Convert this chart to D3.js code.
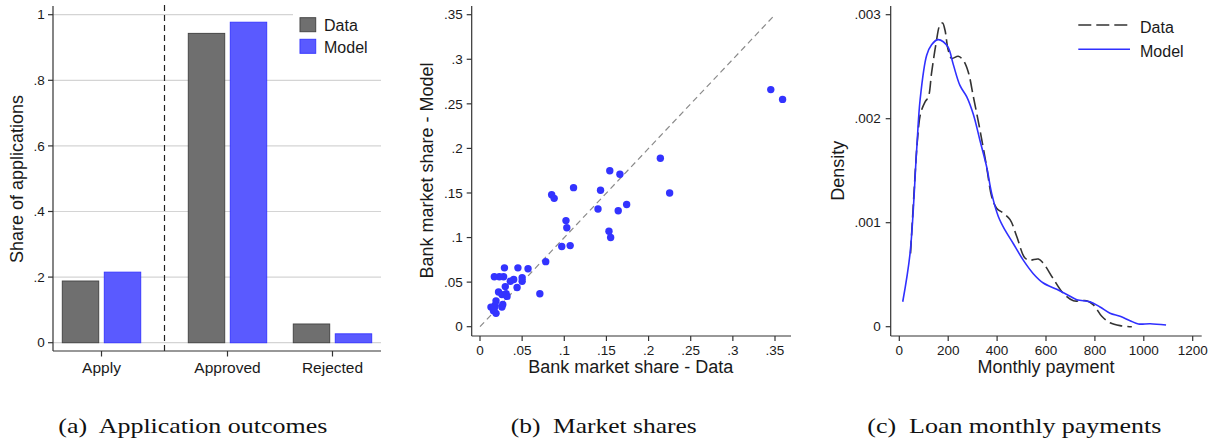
<!DOCTYPE html>
<html>
<head>
<meta charset="utf-8">
<script src="https://cdn.jsdelivr.net/npm/d3@7"></script>
<style>
  html, body { margin: 0; padding: 0; background: #fff; }
  svg { display: block; }
  .sans { font-family: "Liberation Sans", Arial, Helvetica, sans-serif; fill: #1a1a1a; }
  .cap { font-family: "Liberation Serif", "Times New Roman", serif; fill: #111; }
</style>
</head>
<body>
<svg id="fig" width="1217" height="441"></svg>
<script>
// ---- Panel (a): application outcomes ----
const outcomeCategories = ["Apply", "Approved", "Rejected"];
const outcomeData  = [0.188, 0.943, 0.057];
const outcomeModel = [0.215, 0.977, 0.027];
const shareTicks = [0, 0.2, 0.4, 0.6, 0.8, 1];
const shareTickLabels = ["0", ".2", ".4", ".6", ".8", "1"];

// ---- Panel (b): bank market shares ----
const bankShareData  = [0.345, 0.359, 0.214, 0.225, 0.154, 0.166, 0.143, 0.140, 0.164, 0.174,
                        0.153, 0.155, 0.111, 0.085, 0.088, 0.102, 0.103, 0.097, 0.107, 0.078,
                        0.071, 0.057, 0.045, 0.050, 0.050, 0.044, 0.040, 0.036, 0.029, 0.028,
                        0.023, 0.017, 0.030, 0.022, 0.026, 0.031, 0.032, 0.027, 0.026, 0.019,
                        0.018, 0.013, 0.016, 0.019, 0.017];
const bankShareModel = [0.266, 0.255, 0.189, 0.150, 0.175, 0.171, 0.153, 0.132, 0.130, 0.137,
                        0.107, 0.100, 0.156, 0.148, 0.144, 0.119, 0.111, 0.090, 0.091, 0.073,
                        0.037, 0.065, 0.066, 0.055, 0.051, 0.044, 0.053, 0.051, 0.066, 0.056,
                        0.056, 0.056, 0.045, 0.039, 0.036, 0.037, 0.034, 0.025, 0.022, 0.029,
                        0.024, 0.022, 0.018, 0.015, 0.021];
const marketTicks = [0, 0.05, 0.1, 0.15, 0.2, 0.25, 0.3, 0.35];
const marketTickLabels = ["0", ".05", ".1", ".15", ".2", ".25", ".3", ".35"];

// ---- Panel (c): loan monthly payments (density) ----
const paymentModelX = [14, 44, 71, 85, 112, 132, 157, 180, 201, 221, 248, 276, 303, 330, 357, 378,
                       405, 432, 466, 507, 548, 589, 644, 685, 726, 780, 821, 862, 903, 944, 978, 1026, 1091];
const paymentModelY = [0.00024, 0.000705, 0.0017, 0.00218, 0.00261, 0.00271, 0.00276, 0.00274, 0.00268,
                       0.00252, 0.00232, 0.00221, 0.00204, 0.00179, 0.00154, 0.00128, 0.00106, 0.00093,
                       0.0008, 0.00064, 0.00051, 0.00042, 0.00036, 0.00031, 0.00026, 0.00024, 0.00019,
                       0.00013, 0.0001, 0.000058, 0.000026, 0.000029, 0.000016];
const paymentDataX = [46, 60, 74, 87, 105, 119, 132, 150, 166, 177, 187, 200, 214, 241, 262, 282, 303,
                      330, 357, 378, 398, 426, 453, 480, 514, 535, 569, 589, 630, 671, 712, 766, 794,
                      828, 862, 903, 951];
const paymentDataY = [0.000705, 0.00128, 0.00179, 0.00205, 0.00216, 0.00221, 0.00244, 0.00272, 0.0029,
                      0.00292, 0.00285, 0.00266, 0.00258, 0.0026, 0.00256, 0.00245, 0.00221, 0.00189,
                      0.00154, 0.00125, 0.00114, 0.00109, 0.00103, 0.00087, 0.00066, 0.00064, 0.00065,
                      0.00061, 0.00046, 0.00032, 0.00025, 0.00025, 0.00021, 0.0001, 0.000038, 0.00001, 0];
const densityTicks = [0, 0.001, 0.002, 0.003];
const densityTickLabels = ["0", ".001", ".002", ".003"];
const paymentTicks = [0, 200, 400, 600, 800, 1000, 1200];

const seriesNames = ["Data", "Model"];
const captions = ["(a)  Application outcomes", "(b)  Market shares", "(c)  Loan monthly payments"];

// ---- styling ----
const dataGray = "#6f6f6f", dataGrayEdge = "#474747";
const modelBlue = "#5a5aff", modelBlueEdge = "#3a3aff";
const dotBlue = "#3333ff", lineBlue = "#3030ff";
const axisColor = "#333";
const tickFont = 13.5, titleFont = 18, catFont = 15.5, legendFont = 16;

const svg = d3.select("#fig");
svg.append("rect").attr("width", 1217).attr("height", 441).attr("fill", "#fff");

function leftAxis(g, scale, ticks, labels, xPos, yTop, yBottom, labelRight) {
  g.append("line").attr("x1", xPos).attr("x2", xPos).attr("y1", yTop).attr("y2", yBottom)
    .attr("stroke", axisColor).attr("stroke-width", 1.2);
  ticks.forEach((t, i) => {
    g.append("line").attr("x1", xPos - 5).attr("x2", xPos).attr("y1", scale(t)).attr("y2", scale(t))
      .attr("stroke", axisColor).attr("stroke-width", 1.2);
    g.append("text").attr("class", "sans").attr("x", labelRight).attr("y", scale(t)).attr("dy", "0.35em")
      .attr("text-anchor", "end").attr("font-size", tickFont).text(labels[i]);
  });
}
function bottomAxis(g, scale, ticks, labels, yPos, xLeft, xRight) {
  g.append("line").attr("x1", xLeft).attr("x2", xRight).attr("y1", yPos).attr("y2", yPos)
    .attr("stroke", axisColor).attr("stroke-width", 1.2);
  ticks.forEach((t, i) => {
    g.append("line").attr("x1", scale(t)).attr("x2", scale(t)).attr("y1", yPos).attr("y2", yPos + 5)
      .attr("stroke", axisColor).attr("stroke-width", 1.2);
    g.append("text").attr("class", "sans").attr("x", scale(t)).attr("y", 355)
      .attr("text-anchor", "middle").attr("font-size", tickFont).text(labels[i]);
  });
}
function yTitle(text, x, y) {
  svg.append("text").attr("class", "sans").attr("font-size", titleFont).attr("text-anchor", "middle")
    .attr("transform", `translate(${x},${y}) rotate(-90)`).text(text);
}

// ================= Panel (a) =================
{
  const g = svg.append("g");
  const left = 53, right = 381, top = 6, bottom = 351;
  const y = d3.scaleLinear().domain([0, 1]).range([342.7, 14.7]);
  // group slots: wider gap after "Apply", which is split off by the dashed divider
  const slot = d3.scaleOrdinal().domain(outcomeCategories).range([0, 1.2, 2.2]);
  const x = d3.scaleLinear().domain([-0.462, 2.662]).range([left, right]);
  const barW = x(0.3466) - x(0);
  const offset = x(0.2) - x(0);

  shareTicks.forEach(t => {
    g.append("line").attr("x1", left).attr("x2", right).attr("y1", y(t)).attr("y2", y(t))
      .attr("stroke", "#d4d4d4").attr("stroke-width", 1.2);
  });

  const rows = outcomeCategories.map((c, i) => ({ c, vals: [outcomeData[i], outcomeModel[i]] }));
  rows.forEach(r => {
    r.vals.forEach((v, k) => {
      const cx = x(slot(r.c)) + (k === 0 ? -offset : offset);
      g.append("rect").attr("x", cx - barW / 2).attr("width", barW)
        .attr("y", y(v)).attr("height", y(0) - y(v))
        .attr("fill", k === 0 ? dataGray : modelBlue)
        .attr("stroke", k === 0 ? dataGrayEdge : modelBlueEdge).attr("stroke-width", 1);
    });
  });

  // divider between applying and outcomes
  const divX = x(0.6);
  g.append("line").attr("x1", divX).attr("x2", divX).attr("y1", 5).attr("y2", bottom)
    .attr("stroke", "#222").attr("stroke-width", 1.2).attr("stroke-dasharray", "6,4");

  // legend
  g.append("rect").attr("x", 293).attr("y", 7).attr("width", 88).attr("height", 54).attr("fill", "#fff");
  seriesNames.forEach((s, i) => {
    const yy = 17.7 + i * 21.6;
    g.append("rect").attr("x", 300).attr("y", yy).attr("width", 15.7).attr("height", 14)
      .attr("fill", i === 0 ? dataGray : modelBlue).attr("stroke", i === 0 ? dataGrayEdge : modelBlueEdge);
    g.append("text").attr("class", "sans").attr("x", 324).attr("y", yy + 13.5)
      .attr("font-size", legendFont).text(s);
  });

  leftAxis(g, y, shareTicks, shareTickLabels, left, top, bottom, 44.7);
  g.append("line").attr("x1", left).attr("x2", right).attr("y1", bottom).attr("y2", bottom)
    .attr("stroke", axisColor).attr("stroke-width", 1.2);
  outcomeCategories.forEach(c => {
    const cx = x(slot(c));
    g.append("line").attr("x1", cx).attr("x2", cx).attr("y1", bottom).attr("y2", bottom + 5.5)
      .attr("stroke", axisColor).attr("stroke-width", 1.2);
    g.append("text").attr("class", "sans").attr("x", cx).attr("y", 372.7)
      .attr("text-anchor", "middle").attr("font-size", catFont).text(c);
  });
  yTitle("Share of applications", 23, 179);
}

// ================= Panel (b) =================
{
  const g = svg.append("g");
  const left = 471.7, right = 791, top = 6, bottom = 336;
  const x = d3.scaleLinear().domain([0, 0.35]).range([480, 775]);
  const y = d3.scaleLinear().domain([0, 0.35]).range([326.7, 14.7]);

  g.append("line").attr("x1", x(0)).attr("y1", y(0)).attr("x2", x(0.35)).attr("y2", y(0.35))
    .attr("stroke", "#8a8a8a").attr("stroke-width", 1.2).attr("stroke-dasharray", "6,4");

  g.selectAll("circle").data(d3.zip(bankShareData, bankShareModel)).join("circle")
    .attr("cx", d => x(d[0])).attr("cy", d => y(d[1])).attr("r", 3.7).attr("fill", dotBlue);

  leftAxis(g, y, marketTicks, marketTickLabels, left, top, bottom, 462.7);
  bottomAxis(g, x, marketTicks, marketTickLabels, bottom, left, right);
  g.append("text").attr("class", "sans").attr("x", 630.7).attr("y", 373.3).attr("text-anchor", "middle")
    .attr("font-size", titleFont).text("Bank market share - Data");
  yTitle("Bank market share - Model", 433, 170.5);
}

// ================= Panel (c) =================
{
  const g = svg.append("g");
  const left = 890.7, right = 1201.7, top = 6, bottom = 336;
  const x = d3.scaleLinear().domain([0, 1200]).range([899.3, 1192.7]);
  const y = d3.scaleLinear().domain([0, 0.003]).range([326.7, 14.7]);
  const line = d3.line().x(d => x(d[0])).y(d => y(d[1])).curve(d3.curveCatmullRom.alpha(0.5));

  g.append("path").attr("d", line(d3.zip(paymentDataX, paymentDataY)))
    .attr("fill", "none").attr("stroke", "#333").attr("stroke-width", 1.6).attr("stroke-dasharray", "13,5");
  g.append("path").attr("d", line(d3.zip(paymentModelX, paymentModelY)))
    .attr("fill", "none").attr("stroke", lineBlue).attr("stroke-width", 1.6);

  leftAxis(g, y, densityTicks, densityTickLabels, left, top, bottom, 880.7);
  bottomAxis(g, x, paymentTicks, paymentTicks.map(String), bottom, left, right);
  g.append("text").attr("class", "sans").attr("x", 1046).attr("y", 373).attr("text-anchor", "middle")
    .attr("font-size", titleFont).text("Monthly payment");
  yTitle("Density", 843.7, 170.8);

  // legend
  seriesNames.forEach((s, i) => {
    const yy = 25 + i * 24.3;
    g.append("line").attr("x1", 1078.3).attr("x2", 1130).attr("y1", yy).attr("y2", yy)
      .attr("stroke", i === 0 ? "#333" : lineBlue).attr("stroke-width", 1.6)
      .attr("stroke-dasharray", i === 0 ? "13,5" : null);
    g.append("text").attr("class", "sans").attr("x", 1140).attr("y", yy + 7.5)
      .attr("font-size", legendFont).text(s);
  });
}

// ================= Captions =================
const capX = [58.3, 510.7, 867.3];
const capW = [269, 186, 294];
captions.forEach((c, i) => {
  svg.append("text").attr("class", "cap").attr("x", capX[i]).attr("y", 433)
    .attr("font-size", 21).attr("textLength", capW[i]).attr("lengthAdjust", "spacingAndGlyphs")
    .attr("xml:space", "preserve").text(c);
});
</script>
</body>
</html>
